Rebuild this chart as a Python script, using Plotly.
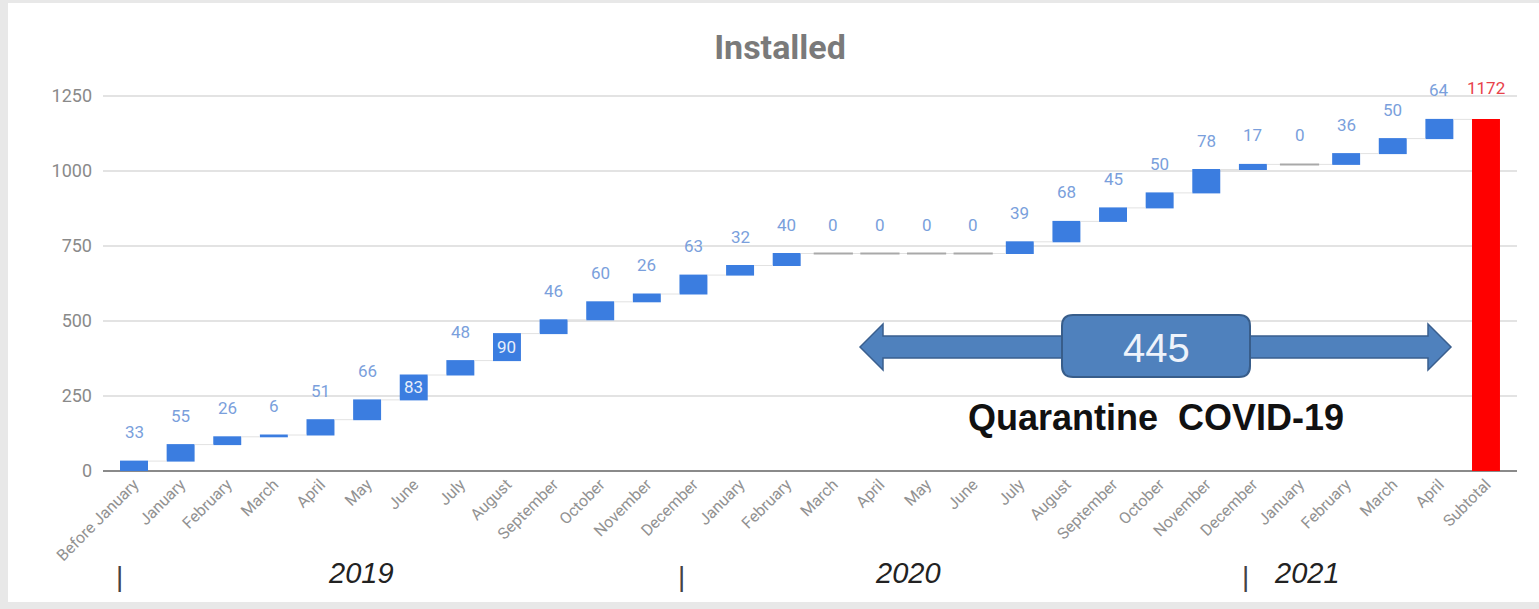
import plotly.graph_objects as go

# ---------------- data ----------------
categories = ["Before January", "January", "February", "March", "April", "May", "June",
              "July", "August", "September", "October", "November", "December",
              "January", "February", "March", "April", "May", "June",
              "July", "August", "September", "October", "November", "December",
              "January", "February", "March", "April", "Subtotal"]
increments = [33, 55, 26, 6, 51, 66, 83, 48, 90, 46, 60, 26, 63,
              32, 40, 0, 0, 0, 0, 39, 68, 45, 50, 78, 17,
              0, 36, 50, 64]
inside_label_idx = [6, 8]          # labels drawn inside the bar in the original
year_labels = ["2019", "2020", "2021"]
y_tick_values = [0, 250, 500, 750, 1000, 1250]
covid_value_label = "445"
covid_caption = "Quarantine  COVID-19"
chart_title = "Installed"

# ---------------- derived ----------------
n = len(categories)
xs = list(range(n))
total = sum(increments)
ends, starts = [], []
run = 0
for v in increments:
    starts.append(run)
    run += v
    ends.append(run)

W, H = 1539, 609
L, R, T, B = 103, 22, 81, 138


def px(x):
    return (x - L) / (W - L - R)


def py(y):
    return (H - B - y) / (H - T - B)


BLUE = "#3b7de0"
LABEL_BLUE = "#7a9fdc"

fig = go.Figure()

fig.add_trace(go.Waterfall(
    x=xs,
    y=increments + [total],
    measure=["relative"] * len(increments) + ["total"],
    increasing=dict(marker=dict(color=BLUE)),
    decreasing=dict(marker=dict(color=BLUE)),
    totals=dict(marker=dict(color="#ff0000")),
    connector=dict(mode="between", line=dict(color="#e2e2e2", width=1)),
    textinfo="none",
    hoverinfo="x+y",
    showlegend=False,
))

# zero-value months drawn as grey dashes
zx = [i for i, v in enumerate(increments) if v == 0]
zy = [ends[i] for i in zx]
fig.add_trace(go.Scatter(
    x=zx, y=zy, mode="markers",
    marker=dict(symbol="line-ew", size=28, line=dict(color="#a9a9a9", width=2)),
    hoverinfo="skip", showlegend=False,
))

annotations = []
for i, v in enumerate(increments):
    if i in inside_label_idx:
        annotations.append(dict(x=i, y=(starts[i] + ends[i]) / 2, xref="x", yref="y",
                                yanchor="middle", text=str(v), showarrow=False,
                                font=dict(family="Roboto", size=17, color="#e6eefb")))
    else:
        annotations.append(dict(x=i, y=ends[i], xref="x", yref="y", yshift=29,
                                yanchor="middle", text=str(v), showarrow=False,
                                font=dict(family="Roboto", size=17, color=LABEL_BLUE)))
annotations.append(dict(x=n - 1, y=total, xref="x", yref="y", yshift=31, yanchor="middle",
                        text=str(total), showarrow=False,
                        font=dict(family="Roboto", size=17, color="#e8424a")))

# year row
for txt, xpix in zip(year_labels, [361, 908, 1307]):
    annotations.append(dict(x=px(xpix), y=py(573), xref="paper", yref="paper",
                            xanchor="center", yanchor="middle",
                            text="<i>%s</i>" % txt, showarrow=False,
                            font=dict(family="Liberation Sans Narrow, Liberation Sans",
                                      size=29, color="#222222")))
for xpix in [119, 681, 1245]:
    annotations.append(dict(x=px(xpix), y=py(576), xref="paper", yref="paper",
                            xanchor="center", yanchor="middle",
                            text="|", showarrow=False,
                            font=dict(family="Liberation Sans Narrow, Liberation Sans",
                                      size=28, color="#444444")))

# covid arrow text
annotations.append(dict(x=px(1156), y=py(348), xref="paper", yref="paper",
                        xanchor="center", yanchor="middle",
                        text=covid_value_label, showarrow=False,
                        font=dict(family="Liberation Sans", size=40, color="#eef3fb")))
annotations.append(dict(x=px(1156), y=py(417), xref="paper", yref="paper",
                        xanchor="center", yanchor="middle",
                        text="<b>%s</b>" % covid_caption, showarrow=False,
                        font=dict(family="Liberation Sans", size=36, color="#111111")))


def path(points):
    return "M " + " L ".join("%f,%f" % (px(a), py(b)) for a, b in points) + " Z"


arrow_pts = [(860, 347), (883, 324), (883, 336), (1428, 336), (1428, 324), (1451, 347),
             (1428, 370), (1428, 358), (883, 358), (883, 370)]


def rounded_rect(x0, y0, x1, y1, r):
    def P(a, b):
        return "%f,%f" % (px(a), py(b))
    return ("M " + P(x0 + r, y0) + " L " + P(x1 - r, y0) + " Q " + P(x1, y0) + " " + P(x1, y0 + r)
            + " L " + P(x1, y1 - r) + " Q " + P(x1, y1) + " " + P(x1 - r, y1)
            + " L " + P(x0 + r, y1) + " Q " + P(x0, y1) + " " + P(x0, y1 - r)
            + " L " + P(x0, y0 + r) + " Q " + P(x0, y0) + " " + P(x0 + r, y0) + " Z")


shapes = [
    # light grey page frame
    dict(type="rect", xref="paper", yref="paper", x0=px(8), x1=px(W), y0=py(3), y1=py(602),
         fillcolor="white", line=dict(width=0), layer="below"),
    dict(type="path", xref="paper", yref="paper", path=path(arrow_pts),
         fillcolor="#4f81bd", line=dict(color="#3a5f8e", width=1.5), layer="above"),
    dict(type="path", xref="paper", yref="paper", path=rounded_rect(1062, 315, 1250, 377, 11),
         fillcolor="#4f81bd", line=dict(color="#385d8a", width=2), layer="above"),
]

fig.update_layout(
    width=W, height=H,
    margin=dict(l=L, r=R, t=T, b=B),
    paper_bgcolor="#e8e8e8",
    plot_bgcolor="white",
    waterfallgap=0.4,
    title=dict(text="<b>%s</b>" % chart_title, x=780 / W, xref="container", xanchor="center",
               y=1 - 47 / H, yref="container", yanchor="middle",
               font=dict(family="Roboto", size=34, color="#7a7a7a")),
    xaxis=dict(range=[-0.665, 29.665], tickmode="array", tickvals=xs, ticktext=categories,
               tickangle=-45, tickfont=dict(family="Roboto", size=16, color="#929292"),
               showgrid=False, zeroline=False, ticks="", fixedrange=True),
    yaxis=dict(range=[0, 1300], tickvals=y_tick_values,
               tickfont=dict(family="Roboto", size=18, color="#8a8a8a"),
               gridcolor="#e3e3e3", gridwidth=1.5, zeroline=True, zerolinecolor="#8a8a8a",
               zerolinewidth=2, ticks="", ticklabelstandoff=10, fixedrange=True),
    annotations=annotations,
    shapes=shapes,
)

fig.write_html("out.html", config={"displayModeBar": False},
               post_script="document.body.style.margin='0px';")
